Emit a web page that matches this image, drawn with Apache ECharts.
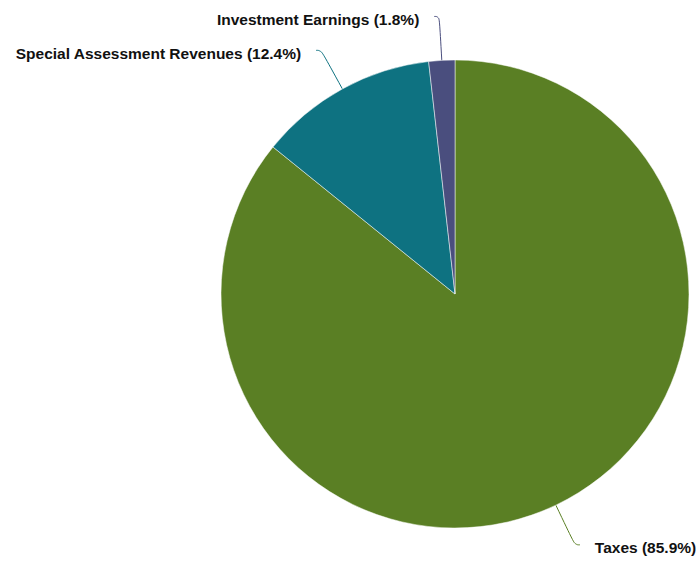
<!DOCTYPE html>
<html>
<head>
<meta charset="utf-8">
<script src="https://cdn.jsdelivr.net/npm/echarts@6/dist/echarts.min.js"></script>
<style>
  html, body { margin: 0; padding: 0; background: #fff; }
  #chart { width: 700px; height: 561px; }
</style>
</head>
<body>
<div id="chart"></div>
<script>
// Revenue sources, share of total (%), clockwise from 12 o'clock.
const categories = ['Taxes', 'Special Assessment Revenues', 'Investment Earnings'];
const shares = [85.9, 12.4, 1.8];
const colors = ['#5a7f24', '#0e7281', '#4a4e7e'];

const chart = echarts.init(document.getElementById('chart'), null, { renderer: 'svg' });
chart.setOption({
  animation: false,
  series: [{
    type: 'pie',
    center: [455, 294],
    radius: 234,
    startAngle: 90,
    clockwise: true,
    avoidLabelOverlap: false,
    data: categories.map((name, i) => ({ name, value: shares[i], itemStyle: { color: colors[i] } })),
    itemStyle: { borderColor: '#fff', borderWidth: 0.5 },
    label: {
      show: true,
      formatter: (p) => `${p.name} (${p.value}%)`,
      fontFamily: 'Liberation Sans, Arial, sans-serif',
      fontWeight: 'bold',
      fontSize: 15.5,
      color: '#111',
      distanceToLabelLine: 15,
    },
    labelLayout: { dy: 3 },
    labelLine: { show: true, length: 44, length2: 5, smooth: 0.5, lineStyle: { width: 1 } },
    emphasis: { disabled: true },
  }],
});
</script>
</body>
</html>
